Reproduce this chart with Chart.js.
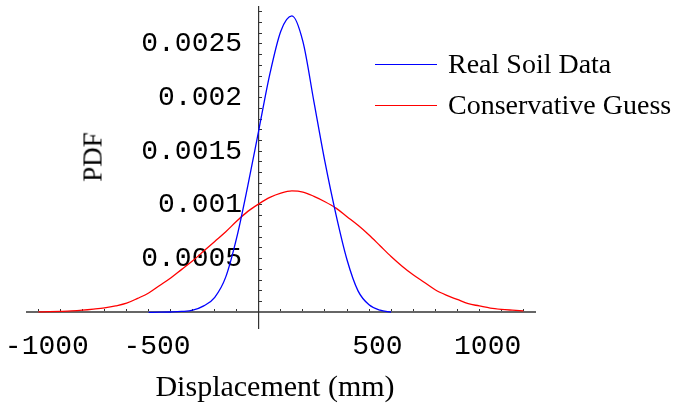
<!DOCTYPE html>
<html>
<head>
<meta charset="utf-8">
<script src="https://cdn.jsdelivr.net/npm/chart.js@4.4.1/dist/chart.umd.min.js"></script>
<style>
  html, body { margin: 0; padding: 0; background: #fff; }
  #wrap { position: relative; width: 674px; height: 407px; overflow: hidden; }
  #wrap canvas { position: absolute; left: 0; top: 0; }
  .serif { position: absolute; font-family: 'Liberation Serif', 'Times New Roman', serif; color: #000; white-space: nowrap; line-height: 1; }
  #x-title { left: 275px; top: 386px; font-size: 30px; transform: translate(-50%, -50%); }
  #y-title { left: 93px; top: 157px; font-size: 27px; transform: translate(-50%, -50%) rotate(-90deg); }
  .legend-row { position: absolute; left: 375px; display: flex; align-items: center; font-size: 28px; }
  .legend-line { display: inline-block; width: 62px; height: 0; margin-right: 11px; }
</style>
</head>
<body>
<div id="wrap">
  <canvas id="chart-pdf" width="674" height="407"></canvas>
  <div class="serif" id="x-title">Displacement (mm)</div>
  <div class="serif" id="y-title">PDF</div>
  <div id="legend"></div>
</div>
<script>
// Real soil data (blue), PDF every 50 mm
const realSoilX = [-500, -450, -400, -350, -300, -250, -200, -150, -100, -50, 0,
  50, 100, 150, 200, 250, 300, 350, 400, 450, 500, 550, 600];
const realSoilPdf = [0, 0.000001, 0.000003, 0.000008, 0.00002, 0.00006, 0.00014, 0.00033, 0.00070, 0.00118, 0.00170,
  0.00222, 0.00262, 0.00276, 0.00252, 0.00196, 0.00140, 0.00091, 0.00049, 0.00020, 0.00007, 0.00002, 0.000003];

// Conservative guess (red)
const guessX = [-1000, -950, -900, -850, -800, -750, -700, -650, -600, -550, -500, -450, -400, -350, -300, -250,
  -200, -150, -100, -50, 0, 50, 100, 150, 200, 250, 300, 350, 400, 450, 500, 550, 600, 650, 700, 750,
  800, 850, 900, 950, 1000, 1050, 1100, 1150, 1200];
const guessPdf = [0.000004, 0.000006, 0.000009, 0.000013, 0.00002, 0.00003, 0.000042, 0.00006, 0.000085, 0.00013,
  0.00018, 0.00025, 0.00032, 0.00040, 0.00048, 0.00057, 0.00066, 0.00075, 0.00085, 0.00094, 0.00101, 0.00107,
  0.00111, 0.00113, 0.00112, 0.00108, 0.00103, 0.00097, 0.00089, 0.00081, 0.00072, 0.00062, 0.00052, 0.00043,
  0.00035, 0.00028, 0.00021, 0.00016, 0.00012, 0.00008, 0.00006, 0.00004, 0.000028, 0.00002, 0.000013];

// ticks: minor marks every 100 mm / 0.0001, labels only on the major ones
const xTicks = [-1000, -900, -800, -700, -600, -500, -400, -300, -200, -100, 0, 100, 200, 300, 400, 500,
  600, 700, 800, 900, 1000, 1100, 1200];
const xTickLabels = [-1000, -500, 500, 1000];
const yTicks = [0, 0.0001, 0.0002, 0.0003, 0.0004, 0.0005, 0.0006, 0.0007, 0.0008, 0.0009, 0.001, 0.0011,
  0.0012, 0.0013, 0.0014, 0.0015, 0.0016, 0.0017, 0.0018, 0.0019, 0.002, 0.0021, 0.0022, 0.0023, 0.0024,
  0.0025, 0.0026, 0.0027, 0.0028];
const yTickLabels = ['0.0005', '0.001', '0.0015', '0.002', '0.0025'];

const tickFont = { family: "'Liberation Mono', 'DejaVu Sans Mono', monospace", size: 28 };

const toPoints = (xs, ys) => xs.map((x, i) => ({ x: x, y: ys[i] }));

// axes sit at the origin, so they should not eat layout space
const noSpace = (scale) => {
  if (scale.isHorizontal()) scale.height = 0; else scale.width = 0;
  scale.paddingLeft = scale.paddingRight = scale.paddingTop = scale.paddingBottom = 0;
};

const chart = new Chart(document.getElementById('chart-pdf'), {
  type: 'line',
  data: {
    datasets: [
      {
        label: 'Real Soil Data',
        data: toPoints(realSoilX, realSoilPdf),
        borderColor: '#0000ff'
      },
      {
        label: 'Conservative Guess',
        data: toPoints(guessX, guessPdf),
        borderColor: '#ff0000'
      }
    ]
  },
  options: {
    responsive: false,
    animation: false,
    layout: { padding: { left: 27, right: 139, top: 7, bottom: 79 } },
    elements: {
      point: { radius: 0 },
      line: { borderWidth: 1.3, cubicInterpolationMode: 'monotone', fill: false }
    },
    plugins: {
      legend: { display: false },
      tooltip: { enabled: false }
    },
    scales: {
      x: {
        type: 'linear',
        position: { y: 0 },
        min: -1052,
        max: 1253,
        afterBuildTicks: (s) => { s.ticks = xTicks.map(v => ({ value: v })); },
        afterFit: noSpace,
        border: { color: '#666', width: 2 },
        grid: { drawOnChartArea: false, drawTicks: true, tickLength: -4, tickColor: '#333', tickWidth: 1 },
        ticks: {
          autoSkip: false,
          maxRotation: 0,
          padding: 21,
          color: '#000',
          font: tickFont,
          // leading space nudges the label right, like the original
          callback: (v) => xTickLabels.includes(v) ? ' ' + v : ''
        }
      },
      y: {
        type: 'linear',
        position: { x: 0 },
        min: -0.000146,
        max: 0.002843,
        afterBuildTicks: (s) => { s.ticks = yTicks.map(v => ({ value: v })); },
        afterFit: noSpace,
        border: { color: '#333', width: 1.2 },
        grid: { drawOnChartArea: false, drawTicks: true, tickLength: -4, tickColor: '#333', tickWidth: 1 },
        ticks: {
          autoSkip: false,
          color: '#000',
          font: tickFont,
          // trailing space keeps the label off the axis line
          callback: (v) => {
            const lbl = yTickLabels.find(t => Math.abs(Number(t) - v) < 1e-9);
            return lbl === undefined ? '' : lbl + ' ';
          }
        }
      }
    }
  }
});

// legend drawn as html, upper right, overlapping the plot like the original
const legendTops = [64, 105];
const legend = document.getElementById('legend');
chart.data.datasets.forEach((ds, i) => {
  const row = document.createElement('div');
  row.className = 'serif legend-row';
  row.style.top = (legendTops[i] - 15) + 'px';
  row.style.height = '30px';
  row.innerHTML = '<span class="legend-line" style="border-top: 1.3px solid ' + ds.borderColor + '"></span>' +
    '<span>' + ds.label + '</span>';
  legend.appendChild(row);
});
</script>
</body>
</html>
